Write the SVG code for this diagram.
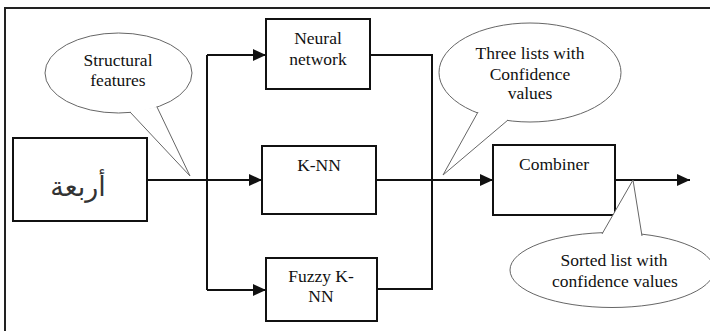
<svg xmlns="http://www.w3.org/2000/svg" width="710" height="331" viewBox="0 0 710 331">
<style>
.t{font-family:"Liberation Serif","Times New Roman",serif;font-size:17.5px;fill:#111;text-anchor:middle}
.ar{font-family:"DejaVu Sans","Noto Sans",sans-serif;font-size:27px;fill:#333;text-anchor:middle}
.box{fill:#fff;stroke:#111;stroke-width:2}
.wire{fill:none;stroke:#111;stroke-width:2}
.call{fill:#fff;stroke:#666;stroke-width:1}
.gap{stroke:#fff;stroke-width:3}
</style>
<defs>
<marker id="arr" markerUnits="userSpaceOnUse" markerWidth="14" markerHeight="12" refX="13" refY="6" orient="auto">
<path d="M0,0 L13,6 L0,12 z" fill="#111"/>
</marker>
</defs>
<rect width="710" height="331" fill="#fff"/>
<path d="M5,331 L5,8 L710,8" fill="none" stroke="#222" stroke-width="2"/>
<g id="connectors">
<path class="wire" d="M147,180 L207,180"/>
<path class="wire" d="M207,55 L207,290"/>
<path class="wire" d="M207,55 L266,55" marker-end="url(#arr)"/>
<path class="wire" d="M207,180 L262,180" marker-end="url(#arr)"/>
<path class="wire" d="M207,290 L266,290" marker-end="url(#arr)"/>
<path class="wire" d="M370,55 L432,55 L432,289 L377,289"/>
<path class="wire" d="M376,180 L493,180" marker-end="url(#arr)"/>
<path class="wire" d="M615,180 L690,180" marker-end="url(#arr)"/>
</g>
<g id="input">
<rect class="box" x="13" y="138" width="134" height="83"/>
<text class="ar" x="78" y="196">أربعة</text>
</g>
<g id="neural">
<rect class="box" x="266" y="19" width="104" height="70"/>
<text class="t" x="318" y="44">Neural</text>
<text class="t" x="318" y="65">network</text>
</g>
<g id="knn">
<rect class="box" x="262" y="146" width="114" height="68"/>
<text class="t" x="319" y="171">K-NN</text>
</g>
<g id="fuzzy">
<rect class="box" x="266" y="258" width="111" height="63"/>
<text class="t" x="321" y="282">Fuzzy K-</text>
<text class="t" x="321" y="302">NN</text>
</g>
<g id="combiner">
<rect class="box" x="493" y="145" width="122" height="70"/>
<text class="t" x="554" y="170">Combiner</text>
</g>
<g id="callout-features">
<ellipse class="call" cx="118.5" cy="73" rx="73.5" ry="40"/>
<path class="gap" d="M131,111 L156,106"/>
<path class="call" d="M130,112 L190,176 L157,107"/>
<text class="t" x="118" y="66">Structural</text>
<text class="t" x="118" y="86">features</text>
</g>
<g id="callout-three">
<ellipse class="call" cx="530" cy="72.5" rx="91" ry="49.5"/>
<path class="gap" d="M479,113 L507,120"/>
<path class="call" d="M478,112 L443,175 L508,120"/>
<text class="t" x="530" y="59">Three lists with</text>
<text class="t" x="530" y="80">Confidence</text>
<text class="t" x="530" y="99">values</text>
</g>
<g id="callout-sorted">
<ellipse class="call" cx="612" cy="270" rx="102" ry="37.5"/>
<path class="gap" d="M603,234 L641,236"/>
<path class="call" d="M602,234 L633,180 L642,236"/>
<text class="t" x="614" y="266">Sorted list with</text>
<text class="t" x="615" y="287">confidence values</text>
</g>
</svg>
